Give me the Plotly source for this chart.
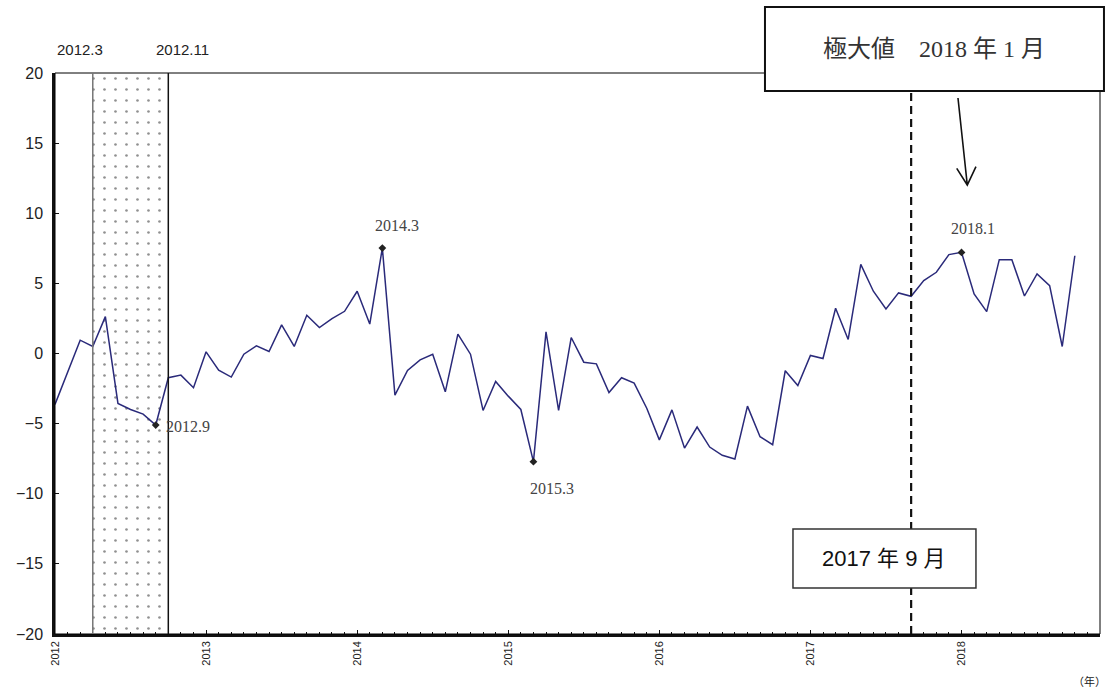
import plotly.graph_objects as go

# ---------------- data ----------------
start_year = 2012
values = [
    # 2012
    -3.63, -1.3, 0.95, 0.5, 2.63, -3.56, -3.99, -4.32, -5.1, -1.73, -1.54, -2.44,
    # 2013
    0.12, -1.19, -1.68, -0.05, 0.55, 0.14, 2.04, 0.5, 2.73, 1.85, 2.49, 3.01,
    # 2014
    4.44, 2.1, 7.52, -2.97, -1.21, -0.45, -0.05, -2.73, 1.38, -0.05, -4.06, -1.99,
    # 2015
    -3.04, -3.99, -7.71, 1.54, -4.06, 1.14, -0.62, -0.74, -2.78, -1.73, -2.11, -3.9,
    # 2016
    -6.16, -4.02, -6.74, -5.24, -6.67, -7.26, -7.52, -3.75, -5.93, -6.5, -1.23, -2.28,
    # 2017
    -0.14, -0.36, 3.23, 1.0, 6.35, 4.44, 3.18, 4.32, 4.08, 5.2, 5.79, 7.05,
    # 2018
    7.21, 4.25, 2.99, 6.69, 6.69, 4.1, 5.67, 4.84, 0.5, 6.97,
]
peak_labels = ["2012.9", "2014.3", "2015.3", "2018.1"]
peak_years = [2012, 2014, 2015, 2018]
peak_months = [9, 3, 3, 1]
band_labels = ["2012.3", "2012.11"]
band_edges = [2012.25, 2012.75]
turning_year, turning_month = 2017, 9
y_ticks = [20, 15, 10, 5, 0, -5, -10, -15, -20]
x_years = [2012, 2013, 2014, 2015, 2016, 2017, 2018]

def to_x(year, month):
    return year + (month - 1) / 12.0

x_vals = [start_year + i / 12.0 for i in range(len(values))]
peak_x = [to_x(y, m) for y, m in zip(peak_years, peak_months)]
peak_y = [values[(y - start_year) * 12 + (m - 1)] for y, m in zip(peak_years, peak_months)]
turn_x = to_x(turning_year, turning_month)

SERIF = "Liberation Serif, DejaVu Serif, Noto Sans CJK JP, serif"
SANS = "Liberation Sans, Arial, Noto Sans CJK JP, sans-serif"

fig = go.Figure()

# shaded (dotted) band
fig.add_trace(go.Bar(
    x=[(band_edges[0] + band_edges[1]) / 2], y=[40], base=[-20],
    width=[band_edges[1] - band_edges[0]],
    marker=dict(color="white", line=dict(width=0),
                pattern=dict(shape=".", fgcolor="#222222", bgcolor="white",
                             size=11, solidity=0.045)),
    hoverinfo="skip", showlegend=False,
))

# main line
fig.add_trace(go.Scatter(
    x=x_vals, y=values, mode="lines",
    line=dict(color="#2a2a7a", width=1.5),
    showlegend=False,
))

# peak markers
fig.add_trace(go.Scatter(
    x=peak_x, y=peak_y, mode="markers",
    marker=dict(symbol="diamond", size=6, color="#222222"),
    showlegend=False,
))

shapes = []
# thin frame (top/right)
shapes.append(dict(type="rect", xref="paper", yref="paper", x0=0, x1=1, y0=0, y1=1,
                   line=dict(color="black", width=1), layer="above"))
# band edges
shapes.append(dict(type="line", xref="x", yref="paper", x0=band_edges[0], x1=band_edges[0],
                   y0=0, y1=1, line=dict(color="#777777", width=1.5)))
shapes.append(dict(type="line", xref="x", yref="paper", x0=band_edges[1], x1=band_edges[1],
                   y0=0, y1=1, line=dict(color="#111111", width=1.5)))
# dashed turning-point line
shapes.append(dict(type="line", xref="x", yref="paper", x0=turn_x, x1=turn_x,
                   y0=0, y1=1.0, line=dict(color="#111111", width=2.2, dash="8px,5px")))
# top annotation box
shapes.append(dict(type="rect", xref="paper", yref="paper", x0=0.6794, x1=1.0038,
                   y0=0.9679, y1=1.1176, fillcolor="white",
                   line=dict(color="#111111", width=2), layer="above"))
# bottom annotation box
shapes.append(dict(type="rect", xref="paper", yref="paper", x0=0.7062, x1=0.8813,
                   y0=0.0820, y1=0.1872, fillcolor="white",
                   line=dict(color="#333333", width=1.5), layer="above"))
# arrow (line + open V head)
shapes.append(dict(type="path", xref="paper", yref="paper",
                   path="M 0.8641 0.9554 L 0.8730 0.8004 M 0.8629 0.8301 L 0.8730 0.8004 L 0.8813 0.8330",
                   line=dict(color="#111111", width=1.6), layer="above"))

annotations = []
# peak labels
ann_specs = [
    (0, dict(xanchor="left", yanchor="middle", xshift=8, yshift=-1)),
    (1, dict(xanchor="center", yanchor="bottom", xshift=15, yshift=12)),
    (2, dict(xanchor="center", yanchor="top", xshift=19, yshift=-16)),
    (3, dict(xanchor="center", yanchor="bottom", xshift=11, yshift=13)),
]
for i, spec in ann_specs:
    annotations.append(dict(x=peak_x[i], y=peak_y[i], xref="x", yref="y",
                            text=peak_labels[i], showarrow=False,
                            font=dict(family=SERIF, size=16, color="#444444"), **spec))
# band labels
annotations.append(dict(x=band_edges[0], y=1.041, xref="x", yref="paper", text=band_labels[0],
                        showarrow=False, xanchor="center", yanchor="middle", xshift=-13,
                        font=dict(family=SANS, size=15, color="#222222")))
annotations.append(dict(x=band_edges[1], y=1.041, xref="x", yref="paper", text=band_labels[1],
                        showarrow=False, xanchor="center", yanchor="middle", xshift=14,
                        font=dict(family=SANS, size=15, color="#222222")))
# box texts
annotations.append(dict(x=(0.6794 + 1.0038) / 2, y=(0.9679 + 1.1176) / 2, xref="paper", yref="paper",
                        text="極大値　2018 年 1 月", showarrow=False,
                        xanchor="center", yanchor="middle",
                        font=dict(family=SERIF, size=24, color="#333333")))
annotations.append(dict(x=(0.7062 + 0.8813) / 2, y=(0.0820 + 0.1872) / 2, xref="paper", yref="paper",
                        text="2017 年 9 月", showarrow=False,
                        xanchor="center", yanchor="middle",
                        font=dict(family=SANS, size=22, color="#111111")))
# unit label
annotations.append(dict(x=0.99, y=-0.084, xref="paper", yref="paper", text="（年）",
                        showarrow=False, xanchor="center", yanchor="middle",
                        font=dict(family=SANS, size=11, color="#222222")))

fig.update_layout(
    width=1110, height=693,
    margin=dict(l=55, r=10, t=73, b=59),
    paper_bgcolor="white", plot_bgcolor="white",
    shapes=shapes, annotations=annotations,
    bargap=0,
    showlegend=False,
)
fig.update_xaxes(
    range=[2012, 2018 + 11 / 12], tickmode="array", tickvals=x_years,
    ticktext=[str(y) for y in x_years], tickangle=-90,
    ticks="inside", ticklen=4, tickcolor="#111111",
    minor=dict(dtick=1 / 12, tick0=2012, ticks="inside", ticklen=2.5, tickcolor="#111111"),
    showline=True, linecolor="#111111", linewidth=2.5,
    showgrid=False, zeroline=False,
    tickfont=dict(family=SANS, size=11, color="#222222"),
)
fig.update_yaxes(
    range=[-20, 20], tickmode="array", tickvals=y_ticks,
    ticks="inside", ticklen=4, tickcolor="#111111",
    showline=True, linecolor="#111111", linewidth=2.5,
    showgrid=False, zeroline=False,
    tickfont=dict(family=SANS, size=16, color="#222222"),
    ticklabelstandoff=6,
)

fig.write_html(
    "out.html",
    config={"displayModeBar": False},
    post_script="document.body.style.margin='0';document.body.style.overflow='hidden';",
)
